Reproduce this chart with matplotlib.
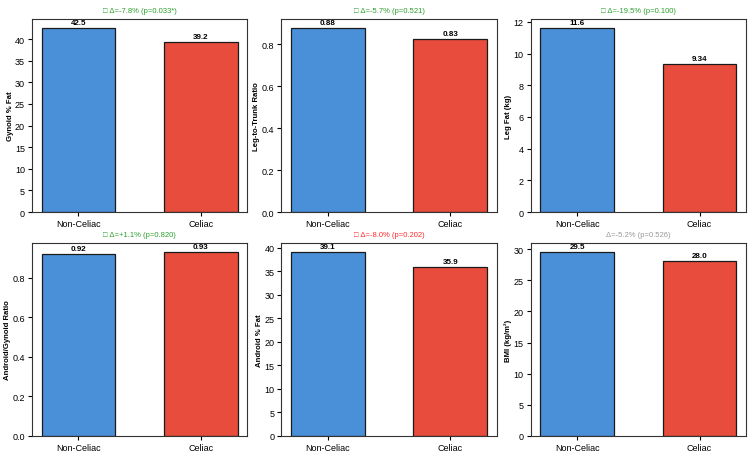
import matplotlib
matplotlib.use("Agg")
import matplotlib.pyplot as plt

plt.rcParams['font.family'] = ['Liberation Sans', 'DejaVu Sans']

groups = ["Non-Celiac", "Celiac"]
metrics = ["Gynoid % Fat", "Leg-to-Trunk Ratio", "Leg Fat (kg)",
           "Android/Gynoid Ratio", "Android % Fat", "BMI (kg/m²)"]
non_celiac = [42.5, 0.876, 11.6, 0.919, 39.1, 29.5]
celiac = [39.2, 0.826, 9.34, 0.929, 35.9, 28.0]
titles = ["□ Δ=-7.8% (p=0.033*)", "□ Δ=-5.7% (p=0.521)", "□ Δ=-19.5% (p=0.100)",
          "□ Δ=+1.1% (p=0.820)", "□ Δ=-8.0% (p=0.202)", "Δ=-5.2% (p=0.526)"]
title_colors = ["#2ca02c", "#2ca02c", "#2ca02c", "#2ca02c", "#ff2a2a", "#999999"]
bar_colors = ["#4A90D9", "#E74C3C"]


def fmt(v):
    if v < 10:
        return f"{v:.2f}"
    return f"{v:.1f}"


fig, axes = plt.subplots(2, 3, figsize=(7.5, 4.56), dpi=100)
fig.subplots_adjust(left=32/750, right=746/750, top=1-20/456, bottom=1-437/456,
                    wspace=0.158, hspace=0.16)

for i, ax in enumerate(axes.flat):
    vals = [non_celiac[i], celiac[i]]
    bars = ax.bar(groups, vals, width=0.6, color=bar_colors,
                  edgecolor="#1a1a1a", linewidth=0.9)
    for b, v in zip(bars, vals):
        ax.annotate(fmt(v), (b.get_x() + b.get_width()/2, v),
                    xytext=(0, 1.5), textcoords="offset points",
                    ha="center", va="bottom", fontsize=5.8, fontweight="bold")
    ax.set_ylabel(metrics[i], fontsize=5.6, fontweight="bold", labelpad=1)
    ax.set_title(titles[i], fontsize=5.5, color=title_colors[i], pad=5)
    ax.tick_params(axis="both", labelsize=6.5, length=3, width=0.8, pad=2)
    for s in ax.spines.values():
        s.set_linewidth(0.8)
        s.set_color("#333333")

fig.savefig("out.png", dpi=100)
